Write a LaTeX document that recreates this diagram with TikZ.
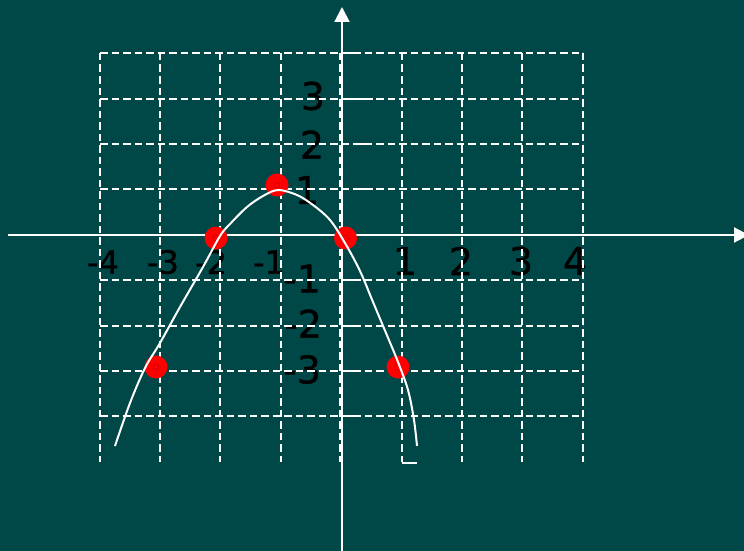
\documentclass[tikz,border=0pt]{standalone}
\usepackage{fontspec}
\setmainfont{DejaVu Sans}
\newfontfamily\lblfont[FakeBold=0.8]{DejaVu Sans}
\usetikzlibrary{arrows.meta}
\definecolor{bg}{RGB}{0,72,72}
\definecolor{dotred}{RGB}{255,0,0}
\begin{document}
\begin{tikzpicture}[x=1pt,y=-1pt,
  gridline/.style={draw=white,line width=2pt,dash pattern=on 7.5pt off 4pt},
  axisline/.style={draw=white,line width=2pt,-{Triangle[length=15pt,width=15pt]}},
  tickline/.style={draw=white,line width=2pt},
  lbl/.style={text=black,font=\lblfont\fontsize{38}{38}\selectfont,inner sep=0pt},
  lblsmall/.style={text=black,font=\lblfont\fontsize{32}{32}\selectfont,inner sep=0pt},
  ptdot/.style={circle,fill=dotred,minimum size=23pt,inner sep=0pt},
  curve/.style={draw=white,line width=2pt}]
\fill[bg] (0,0) rectangle (744,551);
\useasboundingbox (0,0) rectangle (744,551);
% x labels
\node[lblsmall] (xm4) at (103,262) {-4};
\node[lblsmall] (xm3) at (163,262) {-3};
\node[lblsmall] (xm2) at (211,262) {-2};
\node[lblsmall] (xm1) at (269,262) {-1};
\node[lbl] (xp1) at (405,261) {1};
\node[lbl] (xp2) at (461,261) {2};
\node[lbl] (xp3) at (521,261) {3};
\node[lbl] (xp4) at (575,261) {4};
% y labels
\node[lbl] (y3) at (313,96) {3};
\node[lbl] (y2) at (312,144.5) {2};
\node[lbl] (y1) at (307,190) {1};
\node[lbl] (ym1) at (302,278.5) {-1};
\node[lbl] (ym2) at (303,323.5) {-2};
\node[lbl] (ym3) at (302,369.5) {-3};
% grid verticals
\foreach \x in {100,160,220,281,340,402,462,522,583}
  \draw[gridline] (\x,53) -- (\x,462);
% grid horizontals
\foreach \y in {53,98.7,144,189.3,280,325.7,370.7,415.7}
  \draw[gridline] (100,\y) -- (583,\y);
% little foot at x=1
\coordinate (f1) at (402,463);
\coordinate (f2) at (417,463);
\draw[tickline] (f1) -- (f2);
% axes
\coordinate (xs) at (8,235);
\coordinate (xe) at (749,235);
\coordinate (ys) at (342,551);
\coordinate (ye) at (342,7);
\draw[axisline] (xs) -- (xe);
\draw[axisline] (ys) -- (ye);
% ticks
\draw[tickline] (342,53) -- (357,53);
\draw[tickline] (342,98.7) -- (373,98.7);
\draw[tickline] (357,144) -- (372,144);
\draw[tickline] (357,189.3) -- (373,189.3);
\draw[tickline] (342,280) -- (357,280);
\draw[tickline] (342,325.7) -- (357,325.7);
\draw[tickline] (342,370.7) -- (357,370.7);
\draw[tickline] (342,415.7) -- (357,415.7);
% points
\node[ptdot] (p1) at (156,367) {};
\node[ptdot] (p2) at (216,238) {};
\node[ptdot] (p3) at (277,185) {};
\node[ptdot] (p4) at (345.5,238) {};
\node[ptdot] (p5) at (398,367) {};
\foreach \p in {p1,p2,p3,p4,p5}
  \draw[red!70!black,line width=0.4pt] (\p) circle (3pt);
% curve
\draw[curve] plot[smooth,tension=0.55] coordinates {
  (115,446) (130,403) (145,368) (160,343) (180,307) (203,267) (220,236)
  (230,224) (247,207) (263,196) (278,190) (297,195) (313,205) (330,220)
  (345,243) (360,271) (373,302) (386,333) (398,362) (408,390) (414,420) (417,446)};
\end{tikzpicture}
\end{document}
